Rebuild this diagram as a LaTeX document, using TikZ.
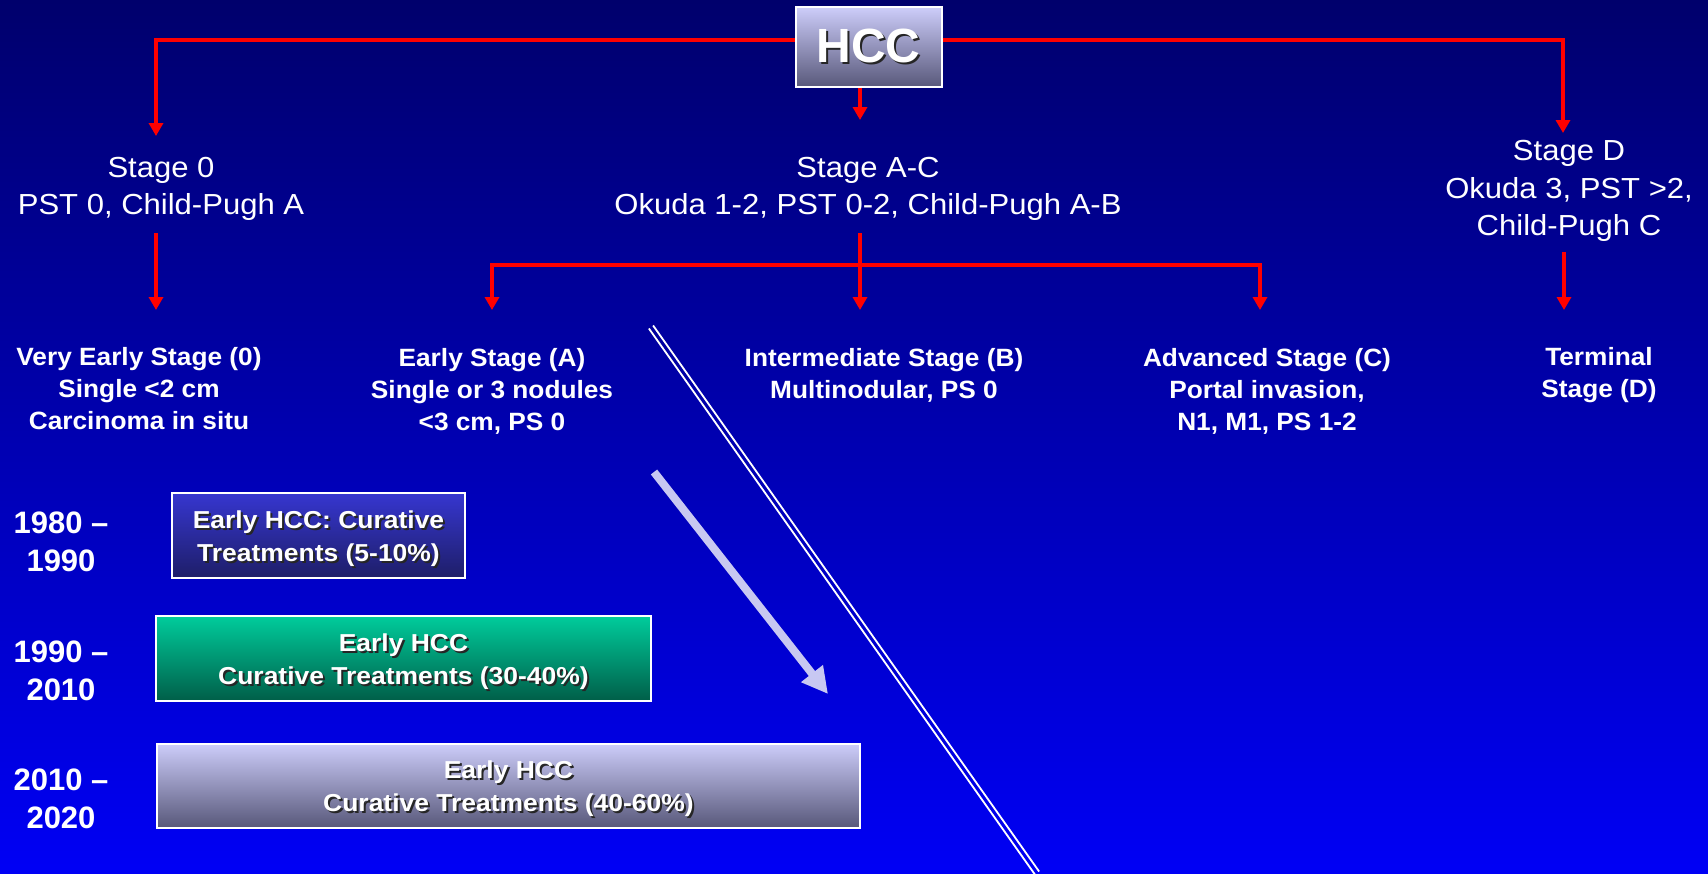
\documentclass[tikz,border=0pt]{standalone}
\usepackage{fontspec}
\setmainfont{Liberation Sans}
\newfontfamily\stagefont[FakeStretch=1.07]{Liberation Sans}
\newfontfamily\labelfont[FakeStretch=1.05]{Liberation Sans}
\newfontfamily\boxfont[FakeStretch=1.08]{Liberation Sans}
\usetikzlibrary{arrows.meta}

% white text with a dark drop shadow
\newcommand\shadowed[1]{\leavevmode\rlap{\kern2pt\lower2pt\hbox{\color{black!85}#1}}#1}
% extra room above the first line of a panel
\newcommand\panelstrut{\rule{0pt}{27pt}}

\definecolor{bgtop}{RGB}{0,0,108}
\definecolor{bgmid}{RGB}{0,0,190}
\definecolor{bgbot}{RGB}{0,0,245}
\definecolor{lavtop}{RGB}{205,205,250}
\definecolor{lavbot}{RGB}{88,88,122}
\definecolor{bluetop}{RGB}{54,54,208}
\definecolor{bluebot}{RGB}{30,30,104}
\definecolor{greentop}{RGB}{0,204,156}
\definecolor{greenbot}{RGB}{0,94,72}
\definecolor{arrowlav}{RGB}{200,200,242}

\begin{document}
\begin{tikzpicture}[x=1pt,y=-1pt,
  redline/.style={draw=red, line width=4pt},
  redarrow/.style={redline, -{Triangle[length=13pt,width=14pt]}},
  stagetext/.style={text=white, align=center, inner sep=0pt,
    font=\stagefont\fontsize{29}{37.5}\selectfont},
  labeltext/.style={text=white, align=center, inner sep=0pt,
    font=\labelfont\bfseries\fontsize{25}{32}\selectfont},
  yeartext/.style={text=white, align=center, inner sep=0pt,
    font=\bfseries\fontsize{31}{38}\selectfont},
  panel/.style={draw=white, line width=2pt, inner sep=0pt, align=center,
    text=white, font=\boxfont\bfseries\fontsize{24.5}{33}\selectfont},
  trendarrow/.style={draw=arrowlav, line width=8pt,
    -{Triangle[length=26pt,width=26pt]}},
  divider/.style={draw=white, line width=1.8pt},
]
% background
\shade[top color=bgtop, middle color=bgmid, bottom color=bgbot]
  (0,0) rectangle (1708,873);
\useasboundingbox (0,0) rectangle (1708,873);

% root
\node[panel, top color=lavtop, bottom color=lavbot,
      minimum width=146pt, minimum height=80pt,
      font=\bfseries\fontsize{48}{50}\selectfont] (hcc) at (868.5,47) {\shadowed{HCC}};

% stage groups
\node[stagetext] (s0)  at (161,189)  {Stage 0\\PST 0, Child-Pugh A};
\node[stagetext] (sac) at (868,189)  {Stage A-C\\Okuda 1-2, PST 0-2, Child-Pugh A-B};
\node[stagetext] (sd)  at (1569,191) {Stage D\\Okuda 3, PST >2,\\Child-Pugh C};

% BCLC stages
\node[labeltext] (l0) at (139,389)  {Very Early Stage (0)\\Single <2 cm\\Carcinoma in situ};
\node[labeltext] (lA) at (492,391)  {Early Stage (A)\\Single or 3 nodules\\<3 cm, PS 0};
\node[labeltext] (lB) at (884,375)  {Intermediate Stage (B)\\Multinodular, PS 0};
\node[labeltext] (lC) at (1267,391) {Advanced Stage (C)\\Portal invasion,\\N1, M1, PS 1-2};
\node[labeltext] (lD) at (1599,375) {Terminal\\Stage (D)};

% periods
\node[yeartext] (y1) at (61,542) {1980 –\\1990};
\node[yeartext] (y2) at (61,671) {1990 –\\2010};
\node[yeartext] (y3) at (61,799) {2010 –\\2020};

% share of early HCC treated curatively
\node[panel, top color=bluetop, bottom color=bluebot,
      minimum width=293pt, minimum height=85pt] (p1) at (318.5,535.5)
  {\panelstrut\shadowed{Early HCC: Curative}\\\shadowed{Treatments (5-10\%)}};
\node[panel, top color=greentop, bottom color=greenbot,
      minimum width=495pt, minimum height=85pt] (p2) at (403.5,658.5)
  {\panelstrut\shadowed{Early HCC}\\\shadowed{Curative Treatments (30-40\%)}};
\node[panel, top color=lavtop, bottom color=lavbot,
      minimum width=703pt, minimum height=84pt] (p3) at (508.5,785.5)
  {\panelstrut\shadowed{Early HCC}\\\shadowed{Curative Treatments (40-60\%)}};

% connector end points
\coordinate (t0)  at (156,136);
\coordinate (tAC) at (860,120);
\coordinate (tD)  at (1563,133);
\coordinate (jAC) at (860,265);
\coordinate (b0)  at (156,310);
\coordinate (bA)  at (492,310);
\coordinate (bB)  at (860,310);
\coordinate (bC)  at (1260,310);
\coordinate (bD)  at (1564,310);

% tree connectors
\draw[redarrow] ([yshift=7pt]hcc.west) -| (t0);
\draw[redarrow] ([yshift=7pt]hcc.east) -| (tD);
\draw[redarrow] (hcc.south -| tAC) -- (tAC);
\draw[redarrow, shorten <=12pt] (s0.south -| b0) -- (b0);
\draw[redline, shorten <=12pt] (sac.south -| jAC) -- (jAC);
\draw[redarrow] (jAC) -| (bA);
\draw[redarrow] (jAC) -| (bC);
\draw[redarrow] (jAC) -- (bB);
\draw[redarrow, shorten <=10pt] (sd.south -| bD) -- (bD);

% trend arrow and dividing double line
\coordinate (ta1) at (654,472);
\coordinate (ta2) at (828,694);
\draw[trendarrow] (ta1) -- (ta2);
\coordinate (dl1) at (651,327);
\coordinate (dl2) at (1037,873);
\draw[divider] ([shift={(2.1,-1.5)}]dl1) -- ([shift={(2.1,-1.5)}]dl2);
\draw[divider] ([shift={(-2.1,1.5)}]dl1) -- ([shift={(-2.1,1.5)}]dl2);
\end{tikzpicture}
\end{document}
